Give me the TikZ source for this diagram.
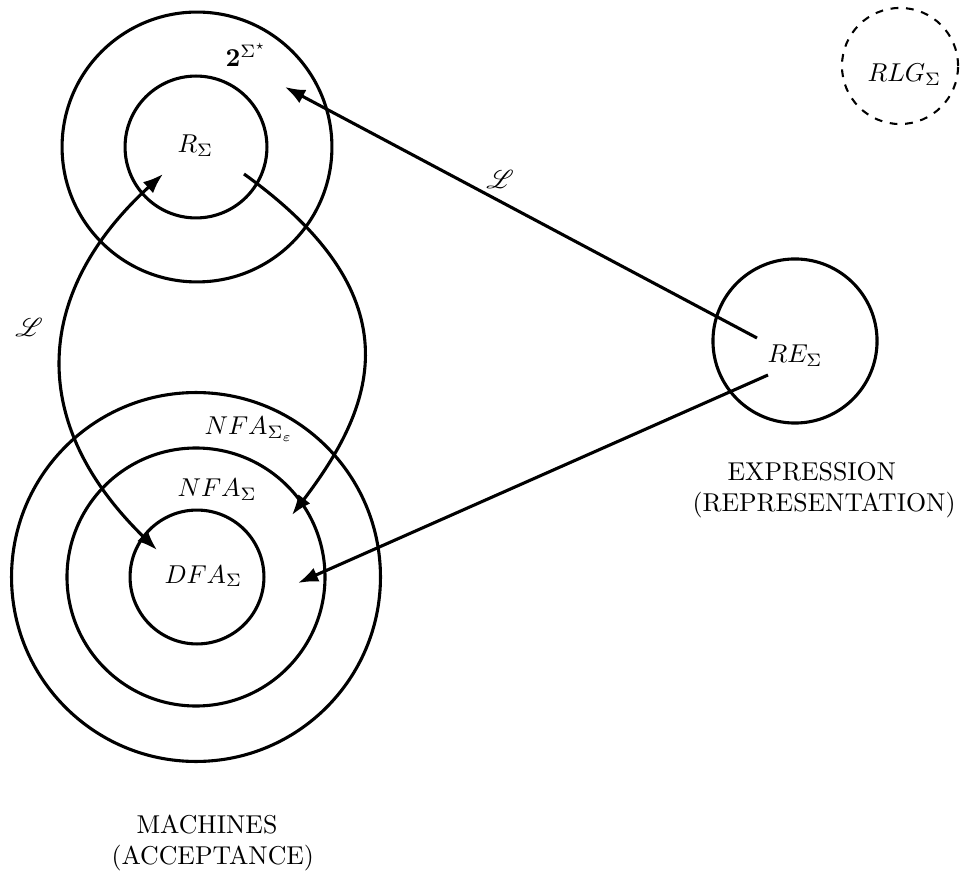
\documentclass[tikz,border=0pt]{standalone}
\usepackage{amsmath,amssymb}
\usepackage{mathrsfs}
\usetikzlibrary{arrows.meta}
\begin{document}
\begin{tikzpicture}[x=0.3876pt,y=-0.3876pt,
  ring/.style={circle,draw,line width=1.2pt,inner sep=0pt,outer sep=0pt},
  dashring/.style={circle,draw,dashed,line width=0.8pt,inner sep=0pt,outer sep=0pt},
  lbl/.style={inner sep=0pt,anchor=base west},
  link/.style={line width=1.2pt,>={Latex[length=7.8pt,width=5.8pt]},->},
  caption/.style={inner sep=0pt,anchor=north west,align=left}]
\useasboundingbox (0,0) rectangle (967,873);

% all languages over Sigma, with the regular ones inside
\node[ring,minimum size=104.6pt] (univ) at (197,147) {};
\node[ring,minimum size=55.0pt] (regset) at (196,147) {};
% automata classes, nested
\node[ring,minimum size=143.0pt] (enfa) at (196,577) {};
\node[ring,minimum size=100.0pt] (nfa) at (196,577) {};
\node[ring,minimum size=51.9pt] (dfa) at (197,577) {};
% regular expressions and right-linear grammars
\node[ring,minimum size=63.6pt] (re) at (795,341) {};
\node[dashring,minimum size=45.0pt] (rlg) at (900,66) {};

% set names
\node[lbl] (powL) at (225,67) {$\mathbf{2}^{\Sigma^\star}$};
\node[lbl] (regL) at (177,153) {$R_\Sigma$};
\node[lbl] (rlgL) at (867,82) {$RLG_\Sigma$};
\node[lbl] (reL) at (767,363) {$RE_\Sigma$};
\node[lbl] (enfaL) at (204,435) {$NFA_{\Sigma_\varepsilon}$};
\node[lbl] (nfaL) at (177,497) {$NFA_\Sigma$};
\node[lbl] (dfaL) at (164,583) {$DFA_\Sigma$};

% language maps
\node (langA) at (29,327) {$\mathscr{L}$};
\node (langB) at (500,179) {$\mathscr{L}$};

% group captions
\node[caption] (machCap) at (111,815) {\hspace*{9.7pt}MACHINES\\(ACCEPTANCE)};
\node[caption] (exprCap) at (692,462) {\hspace*{13.6pt}EXPRESSION\\(REPRESENTATION)};

% connector end points
\coordinate (reA) at (757,338);
\coordinate (powTip) at (285,87);
\coordinate (reB) at (768,375);
\coordinate (dfaTip) at (298,583);
\coordinate (regLo) at (163,174);
\coordinate (dfaHi) at (157,550);
\coordinate (regRt) at (244,174);
\coordinate (nfaTip) at (292,515);

\draw[link] (reA) -- (powTip);
\draw[link] (reB) -- (dfaTip);
\draw[link,<->] (regLo) .. controls (36,290) and (24,420) .. (dfaHi);
\draw[link] (regRt) .. controls (420,300) and (372,410) .. (nfaTip);
\end{tikzpicture}
\end{document}
